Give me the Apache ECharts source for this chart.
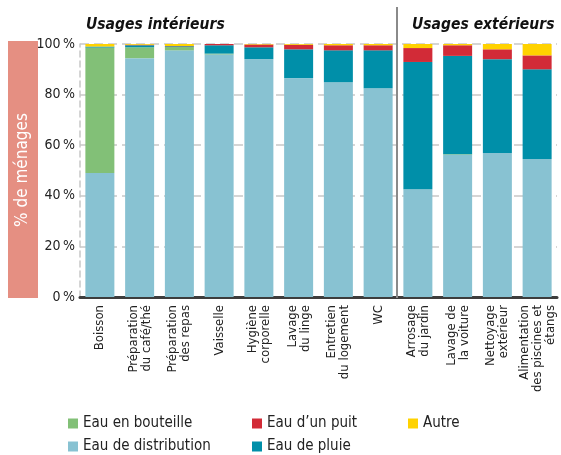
<!DOCTYPE html>
<html>
<head>
<meta charset="utf-8">
<script src="https://cdn.jsdelivr.net/npm/echarts@6/dist/echarts.min.js"></script>
<style>
  html, body { margin: 0; padding: 0; background: #fff; }
  #chart { width: 561px; height: 455px; }
</style>
</head>
<body>
<div id="chart"></div>
<script>
const categories = [
  'Boisson', 'Préparation\ndu café/thé', 'Préparation\ndes repas', 'Vaisselle',
  'Hygiène\ncorporelle', 'Lavage\ndu linge', 'Entretien\ndu logement', 'WC',
  'Arrosage\ndu jardin', 'Lavage de\nla voiture', 'Nettoyage\nextérieur',
  'Alimentation\ndes piscines et\nétangs'
]

// % de ménages, par source d'eau
const distribution = [49.0, 94.4, 97.5, 95.9, 94.0, 86.5, 84.9, 82.5, 42.6, 56.2, 56.9, 54.5]
const bouteille = [49.6, 4.3, 1.3, 0.3, 0, 0, 0, 0, 0, 0.2, 0, 0]
const pluie = [0.4, 0.8, 0.3, 3.3, 4.7, 11.4, 12.6, 15.0, 50.3, 38.9, 37.1, 35.5]
const puit = [0, 0.2, 0.1, 0.5, 1.1, 1.8, 2.0, 2.0, 5.5, 4.2, 3.9, 5.5]
const autre = [1.0, 0.3, 0.8, 0, 0.2, 0.3, 0.5, 0.5, 1.6, 0.5, 2.1, 4.5]

const yTicks = [0, 20, 40, 60, 80, 100]

const font = 'DejaVu Sans Condensed'

const chart = echarts.init(document.getElementById('chart'))

const makeBar = (name, data, color) => ({
  name,
  type: 'bar',
  stack: 'total',
  data,
  barWidth: 29,
  itemStyle: { color },
  emphasis: { disabled: true }
})

// one legend per entry so the two rows line up in columns
const legendAt = (name, left, top) => ({
  data: [name],
  left,
  top,
  itemWidth: 10,
  itemHeight: 10,
  icon: 'rect',
  textStyle: { fontFamily: font, fontSize: 15, color: '#222' }
})

const titleStyle = { fontFamily: font, fontSize: 15.5, fontWeight: 'bold', fontStyle: 'italic', color: '#111' }

chart.setOption({
  animation: false,
  title: [
    { text: 'Usages intérieurs', left: 81, top: 12, textStyle: titleStyle },
    { text: 'Usages extérieurs', left: 407, top: 12, textStyle: titleStyle }
  ],
  legend: [
    legendAt('Eau en bouteille', 63, 411),
    legendAt('Eau de distribution', 63, 434),
    legendAt('Eau d\u2019un puit', 247, 411),
    legendAt('Eau de pluie', 247, 434),
    legendAt('Autre', 403, 411)
  ],
  grid: { left: 80, right: 4, top: 44, bottom: 158 },
  xAxis: {
    type: 'category',
    data: categories,
    axisLine: { lineStyle: { color: '#3d3d3d', width: 3 } },
    axisTick: { inside: true, length: 8, lineStyle: { color: '#3d3d3d', width: 1.5 } },
    axisLabel: {
      rotate: 90,
      interval: 0,
      margin: 8,
      fontFamily: font,
      fontSize: 13,
      lineHeight: 13,
      color: '#222'
    }
  },
  yAxis: {
    type: 'value',
    min: 0,
    max: 100,
    interval: 20,
    axisLine: { show: true, lineStyle: { color: '#c8c8c8', width: 1.5, type: [6, 4] } },
    axisTick: { show: false },
    splitLine: { lineStyle: { color: '#c8c8c8', width: 1.5, type: [9, 5] } },
    axisLabel: {
      margin: 5,
      fontFamily: font,
      fontSize: 14,
      color: '#222',
      formatter: v => yTicks.includes(v) ? v + '\u2009%' : ''
    }
  },
  series: [
    makeBar('Eau de distribution', distribution, '#88c2d2'),
    makeBar('Eau en bouteille', bouteille, '#82c077'),
    makeBar('Eau de pluie', pluie, '#008fa9'),
    makeBar('Eau d\u2019un puit', puit, '#d22b37'),
    makeBar('Autre', autre, '#ffd200')
  ],
  graphic: [
    {
      type: 'rect',
      shape: { x: 8, y: 41, width: 30, height: 257 },
      style: { fill: '#e58f82' }
    },
    {
      type: 'text',
      x: 23,
      y: 170,
      rotation: Math.PI / 2,
      style: {
        text: '% de ménages',
        fill: '#fff',
        fontFamily: font,
        fontSize: 17,
        align: 'center',
        verticalAlign: 'middle'
      }
    },
    {
      type: 'line',
      shape: { x1: 397, y1: 7, x2: 397, y2: 298 },
      style: { stroke: '#8a8a8a', lineWidth: 2 },
      z: 10
    }
  ]
})
</script>
</body>
</html>
